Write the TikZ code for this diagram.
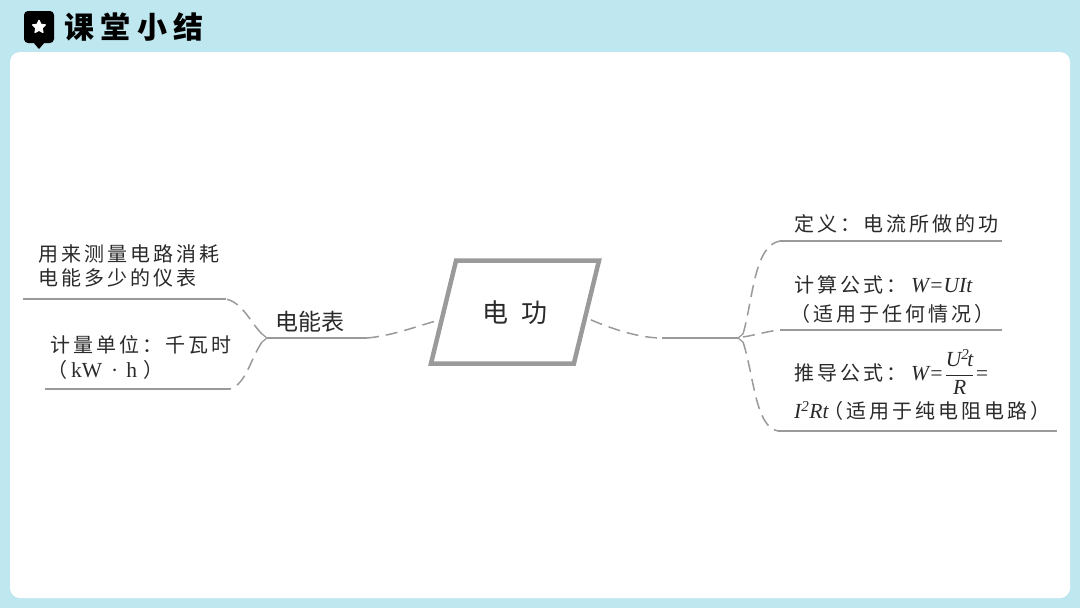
\documentclass[tikz,border=0pt]{standalone}
\usepackage{fontspec}
\usepackage{amsmath}
\usetikzlibrary{shapes.geometric, arrows.meta}
\newfontfamily\cjkfont[LetterSpace=15]{Noto Sans CJK SC}
\newfontfamily\cjkplain{Noto Sans CJK SC}
\newfontfamily\latinfont{Liberation Serif}
\newcommand{\latinvar}[1]{{\latinfont\itshape\fontsize{21.5}{24}\selectfont #1}}
\definecolor{skyband}{HTML}{BFE7EF}
\definecolor{linegray}{HTML}{9A9A9A}
\definecolor{inkgray}{HTML}{2A2A2A}

\begin{document}
\begin{tikzpicture}[
        x=1pt, y=-1pt,
        txt/.style={font=\cjkfont\fontsize{20}{24}\selectfont, text=inkgray,
                    anchor=west, inner sep=0pt},
        rule/.style={draw=linegray, line width=1.6pt},
        branch/.style={draw=linegray, line width=1.5pt, dash pattern=on 12pt off 7pt},
      ]
      \useasboundingbox (0, 0) rectangle (1080, 608);
      \fill[skyband] (0, 0) rectangle (1080, 608);
      \fill[white, rounded corners=10pt] (10, 52) rectangle (1070, 598);

      \node[fill=black, rounded corners=4pt, minimum width=30pt, minimum height=32pt,
            inner sep=0pt] (badge) at (39, 27) {};
      \fill[black] (33, 42) -- (45, 42) -- (39, 49) -- cycle;
      \node[star, star points=5, star point ratio=2.1, fill=white, draw=white, line join=round,
            line width=1.5pt, minimum size=13pt, inner sep=0pt] (badgestar) at (39, 27) {};
      \node[anchor=west, inner sep=0pt, font=\cjkplain\bfseries\fontsize{30}{34}\selectfont,
            text=black] (title) at (64, 27) {课\hspace{6.5pt}堂\hspace{6.5pt}小\hspace{6.5pt}结};

      \node[trapezium, trapezium left angle=76.3, trapezium right angle=103.7,
            trapezium stretches body, draw=linegray, line width=4.5pt, line join=miter,
            minimum width=168pt, text height=22pt, text depth=2pt, inner ysep=39.5pt,
            inner xsep=0pt, text=inkgray,
            font=\cjkplain\fontsize{26}{30}\selectfont] (gong) at (515, 312) {电\hspace{14pt}功};

      \node[txt] (meter) at (275, 322) {\cjkplain\fontsize{23}{26}\selectfont 电能表};
      \node[txt] (use1) at (38, 254) {用来测量电路消耗};
      \node[txt] (use2) at (38, 278) {电能多少的仪表};
      \node[txt] (unit1) at (50, 345) {计量单位：千瓦时};
      \node[txt] (unit2) at (47, 370) {（\hspace{4pt}{\latinfont\fontsize{21.5}{24}\selectfont kW\hspace{9pt}·\hspace{8pt}h}\hspace{6pt}）};

      \node[txt] (defn) at (794, 224) {定义：电流所做的功};
      \node[txt] (calc1) at (794, 285) {计算公式：\hspace{5pt}\latinvar{W=UIt}};
      \node[txt] (calc2) at (790, 314) {（适用于任何情况）};
      \node[txt] (derive1) at (794, 372) {推导公式：\hspace{5pt}\latinvar{W=}\hspace{1pt}$\dfrac{\hbox{\latinvar{U\textsuperscript{2}\kern-2pt t}}}{\hbox{\latinvar{R}}}$\hbox{\latinvar{=}}};
      \node[txt] (derive2) at (794, 411) {\latinvar{I\textsuperscript{2}Rt}\hspace{-5pt}（适用于纯电阻电路）};

      \coordinate (jl) at (267, 338);
      \coordinate (jr) at (738, 338);
      \coordinate (mtrend) at (367, 338);
      \coordinate (trunk) at (662, 338);
      \coordinate (use0) at (23, 299);
      \coordinate (usee) at (226, 299);
      \coordinate (unit0) at (45, 389);
      \coordinate (unite) at (230, 389);
      \coordinate (defn0) at (780, 241);
      \coordinate (defne) at (1002, 241);
      \coordinate (calc0) at (780, 330);
      \coordinate (calce) at (1002, 330);
      \coordinate (der0) at (778, 431);
      \coordinate (dere) at (1057, 431);

      \draw[rule] (jl) -- (mtrend);
      \draw[rule] (trunk) -- (jr);
      \draw[rule] (use0) -- (usee);
      \draw[rule] (unit0) -- (unite);
      \draw[rule] (defn0) -- (defne);
      \draw[rule] (calc0) -- (calce);
      \draw[rule] (der0) -- (dere);
      \draw[rule, line width=1.2pt] ([shift={(-5, -4)}]jl) -- (jl) -- ([shift={(-5, 4)}]jl);
      \draw[rule, line width=1.2pt] ([shift={(5, -4)}]jr) -- (jr) -- ([shift={(5, 4)}]jr);

      \draw[branch, shorten >=4pt] (mtrend) .. controls (390, 336) and (412, 328) .. (gong.186);
      \draw[branch, shorten <=4pt] (gong.-5) .. controls (615, 330) and (640, 338) .. (trunk);
      \draw[branch] ([shift={(-5, -4)}]jl) .. controls (250, 322) and (243, 303) .. (usee);
      \draw[branch] ([shift={(-5, 4)}]jl) .. controls (250, 360) and (246, 384) .. (unite);
      \draw[branch] ([shift={(5, -4)}]jr) .. controls (753, 300) and (754, 245) .. (defn0);
      \draw[branch] ([shift={(5, -1)}]jr) .. controls (756, 335) and (768, 331) .. (calc0);
      \draw[branch] ([shift={(5, 4)}]jr) .. controls (754, 375) and (755, 427) .. (der0);
    \end{tikzpicture}
\end{document}
